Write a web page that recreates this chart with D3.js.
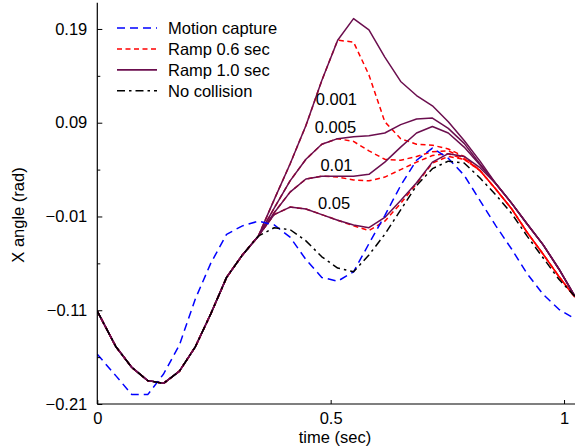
<html>
<head>
<style>
  body { margin: 0; background: #fff; }
  svg text { font-family: "Liberation Sans", Arial, sans-serif; font-size: 16.5px; fill: #000; }
</style>
<script src="https://cdn.jsdelivr.net/npm/d3@7"></script>
</head>
<body>
<svg id="chart"></svg>
<script>
// sample times (sec)
let times = [0, 0.040, 0.074, 0.108, 0.142, 0.176, 0.210, 0.243, 0.277, 0.311, 0.345,
  0.379, 0.413, 0.447, 0.481, 0.515, 0.549, 0.582, 0.616, 0.650, 0.684,
  0.718, 0.752, 0.786, 0.820, 0.854, 0.888, 0.921, 0.955, 0.989, 1.023]

// all simulated runs are identical until the collision
let sharedStart = [-0.111, -0.149, -0.171, -0.185, -0.188, -0.175, -0.149, -0.114, -0.075, -0.051, -0.031]

let motionCapture = [-0.157, -0.180, -0.200, -0.200, -0.178, -0.147, -0.098, -0.060, -0.029, -0.020, -0.015,
  -0.019, -0.032, -0.056, -0.075, -0.079, -0.069, -0.039, -0.009, 0.023, 0.050,
  0.063, 0.052, 0.034, 0.007, -0.020, -0.045, -0.071, -0.093, -0.109, -0.119]

let noCollision = sharedStart.concat([-0.022, -0.024, -0.036, -0.053, -0.065, -0.069, -0.051, -0.029, -0.003, 0.023,
  0.041, 0.049, 0.047, 0.031, 0.013, -0.007, -0.031, -0.054, -0.077, -0.095])

// ramp 1.0 sec, one run per stiffness value
let ramp10Tail = [0.025, 0.004, -0.018, -0.040, -0.066, -0.095]
let ramp10_001 = sharedStart.concat([0.008, 0.046, 0.087, 0.135, 0.178, 0.201, 0.189, 0.160, 0.134, 0.119,
  0.108, 0.091, 0.071, 0.049]).concat(ramp10Tail)
let ramp10_005 = sharedStart.concat([-0.001, 0.028, 0.051, 0.067, 0.073, 0.075, 0.076, 0.079, 0.088, 0.094,
  0.095, 0.084, 0.068, 0.046]).concat(ramp10Tail)
let ramp10_01 = sharedStart.concat([-0.006, 0.016, 0.030, 0.033, 0.033, 0.033, 0.035, 0.048, 0.064, 0.079,
  0.086, 0.079, 0.064, 0.045]).concat(ramp10Tail)
let ramp10_05 = sharedStart.concat([-0.008, 0.000, -0.002, -0.008, -0.014, -0.019, -0.022, -0.011, 0.007, 0.026,
  0.048, 0.057, 0.054, 0.042]).concat(ramp10Tail)

// ramp 0.6 sec
let ramp06Tail = [0.019, -0.002, -0.027, -0.050, -0.074, -0.096]
let ramp06_001 = sharedStart.concat([0.008, 0.046, 0.087, 0.135, 0.178, 0.176, 0.141, 0.091, 0.073, 0.067,
  0.066, 0.062, 0.054, 0.039]).concat(ramp06Tail)
let ramp06_005 = sharedStart.concat([-0.001, 0.028, 0.051, 0.067, 0.073, 0.070, 0.060, 0.051, 0.050, 0.054,
  0.059, 0.060, 0.052, 0.039]).concat(ramp06Tail)
let ramp06_01 = sharedStart.concat([-0.006, 0.016, 0.030, 0.033, 0.032, 0.029, 0.028, 0.032, 0.040, 0.048,
  0.055, 0.057, 0.051, 0.039]).concat(ramp06Tail)
let ramp06_05 = sharedStart.concat([-0.008, 0.000, -0.002, -0.008, -0.014, -0.020, -0.025, -0.015, 0.004, 0.025,
  0.047, 0.054, 0.051, 0.039]).concat(ramp06Tail)

let yMajorTicks = [-0.21, -0.11, -0.01, 0.09, 0.19]
let yMinorTicks = [-0.16, -0.06, 0.04, 0.14]
let xTicks = [0, 0.5, 1]

// stiffness labels next to the ramp runs (time, angle of text baseline)
let runLabels = [
  { text: "0.001", t: 0.468, v: 0.109 },
  { text: "0.005", t: 0.466, v: 0.0795 },
  { text: "0.01", t: 0.478, v: 0.038 },
  { text: "0.05", t: 0.473, v: -0.002 }
]

let width = 576, height = 448
let svg = d3.select("#chart").attr("width", width).attr("height", height)

let xScale = d3.scaleLinear().domain([0, 1.022]).range([97.3, 574.3])
let yScale = d3.scaleLinear().domain([-0.21, 0.218]).range([404, 2.7])

svg.append("defs").append("clipPath").attr("id", "plotClip")
  .append("rect").attr("x", 97).attr("y", 0).attr("width", 478).attr("height", 404)

let line = d3.line().x((d, i) => xScale(times[i])).y(d => yScale(d))

let purple = "#6b0e4e"
// drawing order: red under purple, black on top
let series = [
  { values: ramp06_001, color: "#ff0000", dash: "5,3.5" },
  { values: ramp06_005, color: "#ff0000", dash: "5,3.5" },
  { values: ramp06_01, color: "#ff0000", dash: "5,3.5" },
  { values: ramp06_05, color: "#ff0000", dash: "5,3.5" },
  { values: ramp10_001, color: purple, dash: null },
  { values: ramp10_005, color: purple, dash: null },
  { values: ramp10_01, color: purple, dash: null },
  { values: ramp10_05, color: purple, dash: null },
  { values: motionCapture, color: "#0000ff", dash: "8,5" },
  { values: noCollision, color: "#000000", dash: "8,4,2.5,4" }
]

svg.append("g").attr("clip-path", "url(#plotClip)")
  .selectAll("path").data(series).enter().append("path")
  .attr("d", d => line(d.values))
  .attr("fill", "none")
  .attr("stroke", d => d.color)
  .attr("stroke-width", 1.5)
  .attr("stroke-linejoin", "round")
  .attr("stroke-dasharray", d => d.dash)

// axes
let yAxis = d3.axisLeft(yScale).tickValues(yMajorTicks).tickSizeInner(-5).tickSizeOuter(0).tickPadding(10)
  .tickFormat(d => (d < 0 ? "\u2212" : "") + Math.abs(d).toFixed(2))
let gy = svg.append("g").attr("transform", "translate(97.3,0)").call(yAxis)
svg.append("g").attr("transform", "translate(97.3,0)")
  .call(d3.axisLeft(yScale).tickValues(yMinorTicks).tickSizeInner(-3).tickSizeOuter(0).tickFormat(""))
  .select(".domain").remove()

let xAxis = d3.axisBottom(xScale).tickValues(xTicks).tickSizeInner(-4).tickSizeOuter(0).tickPadding(8)
  .tickFormat(d => String(d))
let gx = svg.append("g").attr("transform", "translate(0,404)").call(xAxis)

svg.selectAll(".domain").attr("stroke", "#000").attr("stroke-width", 1.2)
svg.selectAll(".tick line").attr("stroke", "#000")
svg.selectAll(".tick text").style("font-size", "16.5px").attr("fill", "#000")
gy.select(".domain").attr("d", "M0,2.7V404")
gx.select(".domain").attr("d", "M97.3,0H575")

svg.append("text").attr("x", 335).attr("y", 443).attr("text-anchor", "middle").text("time (sec)")
svg.append("text").attr("transform", "translate(24,215) rotate(-90)").attr("text-anchor", "middle").text("X angle (rad)")

svg.selectAll(".runLabel").data(runLabels).enter().append("text")
  .attr("class", "runLabel")
  .attr("x", d => xScale(d.t)).attr("y", d => yScale(d.v))
  .text(d => d.text)

// legend
let legendItems = [
  { name: "Motion capture", color: "#0000ff", dash: "8,5", width: 1.5 },
  { name: "Ramp 0.6 sec", color: "#ff0000", dash: "5,3.5", width: 1.5 },
  { name: "Ramp 1.0 sec", color: purple, dash: null, width: 1.8 },
  { name: "No collision", color: "#000000", dash: "8,4,2.5,4", width: 1.5 }
]
let legend = svg.append("g").attr("transform", "translate(117,28)")
let rows = legend.selectAll("g").data(legendItems).enter().append("g")
  .attr("transform", (d, i) => `translate(0,${i * 20.9})`)
rows.append("line").attr("x1", 0).attr("x2", 40).attr("y1", 0).attr("y2", 0)
  .attr("stroke", d => d.color).attr("stroke-width", d => d.width).attr("stroke-dasharray", d => d.dash)
rows.append("text").attr("x", 51).attr("y", 6).text(d => d.name)
</script>
</body>
</html>
